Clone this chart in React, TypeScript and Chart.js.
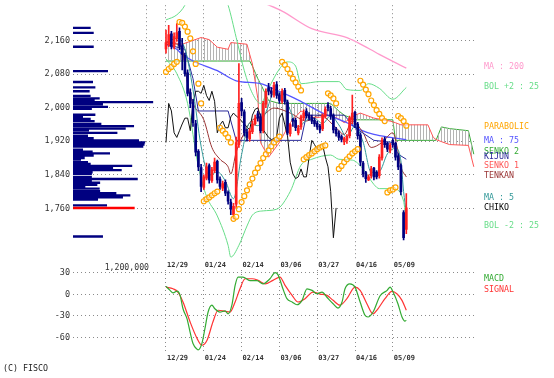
import React, { useEffect, useRef } from "react";
import { Chart, registerables } from "chart.js";
Chart.register(...registerables);

// ---------- axis data ----------
const DATE_LABELS = ["12/29", "01/24", "02/14", "03/06", "03/27", "04/16", "05/09"];
const DATE_TICKS = [0, 14, 28, 42, 56, 70, 84];
const PRICE_TICKS = [2160, 2080, 2000, 1920, 1840, 1760];
const MACD_TICKS = [30, 0, -30, -60];
const VP_SCALE = 1200000;

// ---------- candles (day index 0..89) ----------
const OPENS = [
  2140, 2150, 2176, 2146, 2165, 2182, 2148, 2125, 2083, 2036,
  2012, 1962, 1896, 1857, 1810, 1832, 1862, 1826, 1850, 1872,
  1830, 1808, 1822, 1798, 1775, 1745, 1770, 1912, 2012, 1990,
  1942, 1926, 1943, 1962, 1985, 1978, 1945, 2008, 2048, 2040,
  2030, 2055, 2031, 2015, 2041, 2013, 1938, 1972, 1970, 1940,
  1954, 1976, 1992, 1982, 1977, 1970, 1963, 1956, 1950, 1980,
  2006, 1998, 1982, 1949, 1940, 1931, 1918, 1922, 1933, 1970,
  1989, 1961, 1935, 1868, 1845, 1828, 1838, 1856, 1846, 1838,
  1880, 1925, 1915, 1898, 1922, 1915, 1885, 1862, 1750, 1710,
];
const HIGHS = [
  2185, 2196, 2182, 2178, 2200, 2190, 2165, 2130, 2090, 2045,
  2020, 1970, 1900, 1865, 1840, 1868, 1866, 1858, 1880, 1875,
  1835, 1825, 1828, 1802, 1782, 1772, 1930, 2105, 2022, 1995,
  1948, 1950, 1968, 1982, 1992, 1985, 2015, 2045, 2058, 2048,
  2060, 2062, 2035, 2045, 2046, 2018, 1962, 1975, 1975, 1958,
  1982, 1995, 1998, 1988, 1982, 1975, 1968, 1960, 1985, 2002,
  2012, 2003, 1985, 1953, 1945, 1935, 1930, 1936, 1980, 2030,
  1992, 1965, 1940, 1872, 1848, 1840, 1860, 1858, 1850, 1888,
  1928, 1930, 1918, 1915, 1926, 1918, 1890, 1866, 1755, 1795,
];
const LOWS = [
  2130, 2145, 2140, 2140, 2158, 2138, 2090, 2075, 2028, 2000,
  1955, 1885, 1850, 1800, 1805, 1828, 1820, 1822, 1845, 1820,
  1805, 1802, 1790, 1770, 1745, 1735, 1760, 1905, 1980, 1932,
  1920, 1920, 1938, 1958, 1968, 1940, 1940, 2000, 2030, 2025,
  2025, 2022, 2010, 2010, 2008, 1935, 1932, 1955, 1945, 1935,
  1948, 1970, 1975, 1970, 1962, 1955, 1948, 1940, 1945, 1975,
  1992, 1972, 1940, 1932, 1922, 1918, 1912, 1915, 1928, 1962,
  1952, 1925, 1862, 1835, 1822, 1826, 1832, 1828, 1830, 1832,
  1875, 1905, 1895, 1892, 1905, 1875, 1852, 1792, 1685, 1700,
];
const CLOSES = [
  2155, 2174, 2146, 2169, 2179, 2146, 2127, 2081, 2034, 2010,
  1964, 1894, 1859, 1812, 1835, 1859, 1828, 1852, 1870, 1828,
  1812, 1819, 1796, 1777, 1758, 1765, 1917, 2010, 1992, 1940,
  1929, 1945, 1961, 1975, 1975, 1945, 2010, 2039, 2039, 2034,
  2053, 2029, 2017, 2039, 2015, 1940, 1959, 1968, 1952, 1952,
  1978, 1987, 1980, 1975, 1968, 1961, 1954, 1947, 1982, 1996,
  1999, 1980, 1947, 1938, 1929, 1924, 1926, 1931, 1975, 1987,
  1959, 1933, 1870, 1842, 1831, 1835, 1854, 1835, 1835, 1882,
  1922, 1912, 1901, 1910, 1912, 1882, 1859, 1800, 1690, 1761,
];
const CHIKO_SHIFT = 26;

// ---------- parabolic SAR (one per day) ----------
const SAR = [
  2085, 2092, 2097, 2104, 2109, 2204, 2202, 2193, 2181, 2165,
  2134, 2104, 2057, 2010, 1777, 1782, 1786, 1791, 1796, 1800,
  1952, 1945, 1938, 1929, 1917, 1735, 1740, 1758, 1775, 1789,
  1803, 1817, 1831, 1845, 1856, 1868, 1880, 1889, 1898, 1908,
  1917, 1924, 1931, 2109, 2102, 2092, 2081, 2069, 2060, 2050,
  2041, 1877, 1882, 1887, 1891, 1896, 1901, 1905, 1908, 1910,
  2034, 2029, 2022, 2010, 1854, 1861, 1870, 1877, 1884, 1891,
  1896, 1901, 2064, 2055, 2043, 2032, 2017, 2006, 1994, 1985,
  1975, 1968, 1798, 1803, 1805, 1810, 1980, 1975, 1968, 1957,
];

// ---------- indicator lines (day index, value) ----------
const MA200_X = [36, 43, 54, 67, 71, 79, 89];
const MA200 = [2250, 2230, 2188, 2167, 2155, 2127, 2094];

const BOL_UP_X = [0, 4, 7, 10, 15, 20, 23, 26, 29, 32, 35, 38, 42, 45, 48, 50, 57, 64, 67, 72, 75, 79, 84, 89];
const BOL_UP = [2209, 2221, 2244, 2290, 2310, 2285, 2244, 2167, 2088, 2034, 2010, 2046, 2092, 2109, 2099, 2057, 2062, 2062, 2043, 2041, 2057, 2046, 2020, 2048];

const BOL_LO_X = [0, 4, 8, 12, 15, 19, 23, 24, 27, 30, 32, 36, 41, 46, 50, 54, 61, 64, 69, 73, 77, 79, 84, 88, 89];
const BOL_LO = [2116, 2081, 2010, 1859, 1789, 1742, 1672, 1644, 1672, 1718, 1744, 1754, 1758, 1800, 1863, 1877, 1887, 1877, 1875, 1854, 1817, 1807, 1807, 1777, 1725];

const MA75_X = [0, 4, 6, 10, 19, 26, 35, 41, 49, 58, 67, 72, 77, 83, 89];
const MA75 = [2151, 2139, 2127, 2111, 2088, 2064, 2057, 2041, 2018, 1987, 1964, 1947, 1936, 1929, 1924];

const KIJUN_X = [0, 7, 10, 12, 23, 26, 50, 52, 66, 70, 77, 84, 86, 89];
const KIJUN = [2151, 2139, 2069, 1992, 1992, 1922, 1922, 1982, 1982, 1952, 1922, 1917, 1889, 1877];

const TENKAN_X = [0, 4, 6, 8, 10, 14, 17, 20, 23, 24, 26, 29, 31, 36, 40, 46, 52, 57, 63, 66, 69, 73, 76, 80, 84, 86, 87, 89];
const TENKAN = [2155, 2151, 2139, 2057, 2010, 1971, 1905, 1877, 1859, 1842, 1894, 1940, 1964, 1982, 1999, 1987, 1968, 1982, 1952, 1936, 1968, 1940, 1905, 1917, 1940, 1894, 1859, 1835];

const MA5_X = [0, 4, 7, 10, 13, 16, 19, 22, 25, 28, 31, 34, 37, 40, 43, 46, 49, 52, 55, 58, 61, 64, 67, 70, 73, 76, 79, 82, 85, 87, 88, 89];
const MA5 = [2155, 2165, 2140, 2043, 1908, 1839, 1847, 1825, 1783, 1888, 1963, 1957, 1989, 2035, 2034, 1994, 1954, 1970, 1974, 1962, 1981, 1959, 1930, 1956, 1918, 1846, 1848, 1890, 1903, 1873, 1800, 1750];

const SENKO_X = [0, 6, 13, 16, 19, 23, 24, 30, 31, 32, 34, 35, 38, 42, 46, 50, 55, 61, 64, 66, 70, 72, 77, 83, 84, 85, 87, 97, 99, 100, 102, 105, 112, 114];
const SENKO1 = [2158, 2151, 2167, 2162, 2144, 2139, 2155, 2151, 2127, 2104, 2022, 1917, 1882, 1917, 1964, 1992, 1975, 1982, 1973, 1964, 1982, 1987, 1975, 1968, 1966, 1964, 1959, 1959, 1929, 1924, 1919, 1912, 1910, 1859];
const SENKO2 = [2111, 2111, 2111, 2111, 2111, 2111, 2111, 2111, 2111, 2099, 2069, 2057, 2017, 2010, 2010, 2010, 2010, 2010, 1992, 1982, 1971, 1971, 1971, 1971, 1971, 1922, 1922, 1922, 1922, 1922, 1954, 1950, 1945, 1889];

// ---------- volume by price ----------
const VP_PRICE = [
  2190, 2178, 2145, 2087, 2061, 2048, 2039, 2028, 2022, 2017, 2013, 2008, 2002, 1997,
  1983, 1978, 1973, 1968, 1961, 1956, 1950, 1946, 1940, 1933, 1927, 1922, 1917, 1912, 1907,
  1900, 1895, 1891, 1886, 1880, 1876, 1870, 1866, 1861, 1856, 1851, 1846, 1842,
  1835, 1830, 1826, 1821, 1816, 1811, 1807, 1801, 1796, 1791, 1786, 1781, 1767, 1693,
];
const VP_VOL = [
  287000, 336000, 336000, 568000, 324000, 363000, 270000, 286000, 433000, 352000, 1300000, 486000, 568000, 306000,
  363000, 162000, 287000, 351000, 460000, 990000, 855000, 260000, 720000, 243000, 336000, 1070000, 1170000, 1160000, 1140000,
  162000, 319000, 600000, 336000, 190000, 130000, 243000, 287000, 960000, 650000, 790000, 319000, 306000,
  306000, 1050000, 306000, 440000, 395000, 200000, 433000, 440000, 703000, 930000, 810000, 406000, 552000, 486000,
];
const VP_CUR_PRICE = [1761];
const VP_CUR_VOL = [1000000];

// ---------- MACD ----------
const MACD_X = [0, 1.5, 2.6, 4.1, 5.2, 6.3, 7.8, 8.9, 10, 11.5, 11.9, 13.3, 14.4, 15.6, 17, 18.1, 20, 21.9, 23, 24.4, 25.6, 26.7, 28.5, 31.1, 33.7, 35.9, 38.5, 40.4, 41.5, 43.3, 44.8, 46.7, 48.5, 50.4, 52.2, 54.1, 55.9, 57.8, 59.6, 61.9, 63.7, 65.2, 66.3, 68.1, 70, 71.9, 73.7, 74.8, 76.7, 79.3, 81.9, 83, 84.1, 85.9, 87.4, 88.5, 89];
const MACD = [11, 5.5, 2, 4.5, -1, -20, -34, -52, -68, -76, -77, -68, -48, -24.5, -15, -20, -24.5, -23, -27, -15, 12.4, 24, 24, 19, 19, 14.6, 21.6, 30, 27, 7.7, -6, -10.6, -14.4, -8.3, 7.7, 5.5, 0.8, 3.2, -4, -13, -19, -10.6, 7.7, 14.6, 10, -10.6, -29, -31.4, -24.5, -2, 5.5, 10, 3.2, -13, -31.4, -37, -36];
const SIGNAL_X = [0, 2.6, 4.4, 6.3, 8.9, 11.5, 13.3, 15.2, 17.4, 19.3, 21.9, 23.7, 25.6, 27.4, 29.3, 31.9, 34.1, 36.7, 39.6, 42.2, 44.1, 46.7, 48.9, 51.5, 54.4, 57, 59.6, 61.9, 64.4, 67, 70, 71.9, 74.4, 76.7, 78.5, 81.1, 83.7, 85.6, 87.4, 89];
const SIGNAL = [10, 7.7, 3.2, -10.6, -38, -61, -70.5, -63.6, -38, -22, -23.5, -24.5, -10.6, 7.7, 21.6, 21.6, 19.4, 14.6, 19.4, 24, 12.4, -1.4, -10.6, -6, 3.2, 0.4, -1.4, -8.3, -15, -6, 10, 5.5, -13, -27, -20, -6, 4, 0.4, -8.3, -22];

// ---------- layout / style ----------
const W = 554;
const MAIN_H = 272;
const MACD_TOP = 262;
const MACD_H = 116;
const X_MIN = -34.444;
const X_MAX = 114.444;
const Y_MIN = 1637;
const Y_MAX = 2244;
const M_MIN = -78.5;
const M_MAX = 33.74;
const VP_AXIS_MAX = 6518919;
const MONO = '"DejaVu Sans Mono", "Liberation Mono", monospace';
const GRID = "#8a8a8a";
const DASH = [1, 3];

const C = {
  up: "#ff2020",
  down: "#000080",
  ma200: "#ff99cc",
  bol: "#66dd88",
  sar: "#ffa500",
  ma75: "#5555ff",
  senko2: "#33aa33",
  kijun: "#2a2a9a",
  senko1: "#ff5555",
  tenkan: "#993333",
  ma5: "#339999",
  chiko: "#111111",
  macd: "#33aa33",
  signal: "#ff3333",
  text: "#333333",
};

const LEGEND: [string, string, number][] = [
  ["MA : 200", C.ma200, 67],
  ["BOL +2 : 25", C.bol, 87],
  ["PARABOLIC", C.sar, 127],
  ["MA : 75", C.ma75, 141],
  ["SENKO 2", C.senko2, 152],
  ["KIJUN", C.kijun, 157],
  ["SENKO 1", C.senko1, 166],
  ["TENKAN", C.tenkan, 176],
  ["MA : 5", C.ma5, 198],
  ["CHIKO", "#000000", 208],
  ["BOL -2 : 25", C.bol, 226],
];

const pts = (xs: number[], ys: number[]) => xs.map((x, i) => ({ x, y: ys[i] }));

function makeHatch(): any {
  const c = document.createElement("canvas");
  c.width = 3;
  c.height = 2;
  const g = c.getContext("2d")!;
  g.fillStyle = "#b4b4b4";
  g.fillRect(0, 0, 1, 2);
  return g.createPattern(c, "repeat") || "#dddddd";
}

function lineDs(label: string, data: any[], color: string, order: number, extra: any = {}) {
  return {
    type: "line",
    label,
    data,
    borderColor: color,
    backgroundColor: color,
    borderWidth: 1,
    pointRadius: 0,
    fill: false,
    order,
    ...extra,
  };
}

const gridX = (ticks: number[]) => ({
  type: "linear",
  min: X_MIN,
  max: X_MAX,
  offset: false,
  afterBuildTicks: (s: any) => {
    s.ticks = ticks.map((v) => ({ value: v }));
  },
  ticks: { display: false },
  grid: { color: GRID, drawTicks: false, lineWidth: 1, offset: false },
  border: { display: false, dash: DASH },
});

const gridY = (min: number, max: number, ticks: number[]) => ({
  type: "linear",
  min,
  max,
  afterBuildTicks: (s: any) => {
    s.ticks = ticks.map((v) => ({ value: v }));
  },
  ticks: { display: false },
  grid: { color: GRID, drawTicks: false, lineWidth: 1 },
  border: { display: false, dash: DASH },
});

const mainLabels = {
  id: "mainLabels",
  afterDraw(chart: any) {
    const { ctx, scales } = chart;
    ctx.save();
    ctx.fillStyle = C.text;
    ctx.font = `8.5px ${MONO}`;
    ctx.textAlign = "right";
    ctx.textBaseline = "middle";
    PRICE_TICKS.forEach((v) => ctx.fillText(v.toLocaleString("en-US"), 70, scales.y.getPixelForValue(v)));
    ctx.font = `8.2px ${MONO}`;
    ctx.fillText(VP_SCALE.toLocaleString("en-US"), scales.x2.getPixelForValue(VP_SCALE) + 2, 268);
    ctx.font = `bold 7px ${MONO}`;
    ctx.textAlign = "left";
    DATE_TICKS.forEach((d, i) => ctx.fillText(DATE_LABELS[i], scales.x.getPixelForValue(d) + 1, 265));
    ctx.font = `8.3px ${MONO}`;
    LEGEND.forEach(([t, col, y]) => {
      ctx.fillStyle = col;
      ctx.fillText(t, 484, y);
    });
    ctx.restore();
  },
};

const macdLabels = {
  id: "macdLabels",
  afterDraw(chart: any) {
    const { ctx, scales } = chart;
    ctx.save();
    ctx.fillStyle = C.text;
    ctx.font = `8.5px ${MONO}`;
    ctx.textAlign = "right";
    ctx.textBaseline = "middle";
    MACD_TICKS.forEach((v) => ctx.fillText(String(v), 70, scales.y.getPixelForValue(v)));
    ctx.font = `bold 7px ${MONO}`;
    ctx.textAlign = "left";
    DATE_TICKS.forEach((d, i) => ctx.fillText(DATE_LABELS[i], scales.x.getPixelForValue(d) + 1, 358 - MACD_TOP));
    ctx.font = `8.3px ${MONO}`;
    ctx.fillStyle = C.macd;
    ctx.fillText("MACD", 484, 279 - MACD_TOP);
    ctx.fillStyle = C.signal;
    ctx.fillText("SIGNAL", 484, 290 - MACD_TOP);
    ctx.fillStyle = "#222";
    ctx.fillText("(C) FISCO", 3, 369 - MACD_TOP);
    ctx.restore();
  },
};

export default function App() {
  const mainRef = useRef<HTMLCanvasElement>(null);
  const macdRef = useRef<HTMLCanvasElement>(null);

  useEffect(() => {
    const hatch = makeHatch();
    const idx = CLOSES.map((_, i) => i);
    const upOrDown = (ctx: any) => (CLOSES[ctx.dataIndex] >= OPENS[ctx.dataIndex] ? C.up : C.down);

    const vpData: any[] = [];
    VP_PRICE.forEach((p, i) => {
      vpData.push({ x: 0, y: p }, { x: VP_VOL[i], y: p }, { x: 0, y: null });
    });
    const vpCur: any[] = [];
    VP_CUR_PRICE.forEach((p, i) => {
      vpCur.push({ x: 0, y: p }, { x: VP_CUR_VOL[i], y: p }, { x: 0, y: null });
    });

    const chiko = CLOSES.map((c, i) => ({ x: i - CHIKO_SHIFT, y: c })).filter((p) => p.x >= 0);

    const main = new Chart(mainRef.current as HTMLCanvasElement, {
      type: "line",
      data: {
        datasets: [
          lineDs("vp", vpData, C.down, 30, { xAxisID: "x2", borderWidth: 2.3, borderCapStyle: "butt", spanGaps: false }),
          lineDs("vpcur", vpCur, "#ff0000", 29, { xAxisID: "x2", borderWidth: 2.5, borderCapStyle: "butt", spanGaps: false }),
          lineDs("SENKO 2", pts(SENKO_X, SENKO2), C.senko2, 20),
          lineDs("SENKO 1", pts(SENKO_X, SENKO1), C.senko1, 19, { fill: "-1", backgroundColor: hatch }),
          lineDs("MA 200", pts(MA200_X, MA200), C.ma200, 15, { cubicInterpolationMode: "monotone", borderWidth: 1.3 }),
          lineDs("BOL +2", pts(BOL_UP_X, BOL_UP), C.bol, 15, { cubicInterpolationMode: "monotone" }),
          lineDs("BOL -2", pts(BOL_LO_X, BOL_LO), C.bol, 15, { cubicInterpolationMode: "monotone" }),
          lineDs("MA 75", pts(MA75_X, MA75), C.ma75, 14, { cubicInterpolationMode: "monotone", borderWidth: 1.3 }),
          lineDs("KIJUN", pts(KIJUN_X, KIJUN), C.kijun, 13),
          lineDs("TENKAN", pts(TENKAN_X, TENKAN), C.tenkan, 13, { cubicInterpolationMode: "monotone" }),
          lineDs("MA 5", pts(MA5_X, MA5), C.ma5, 12, { cubicInterpolationMode: "monotone" }),
          lineDs("CHIKO", chiko, C.chiko, 12),
          {
            type: "bar",
            label: "wick",
            data: idx.map((i) => ({ x: i, y: [LOWS[i], HIGHS[i]] })),
            backgroundColor: upOrDown,
            barThickness: 1,
            grouped: false,
            order: 5,
          },
          {
            type: "bar",
            label: "body",
            data: idx.map((i) => ({ x: i, y: [OPENS[i], CLOSES[i]] })),
            backgroundColor: upOrDown,
            barThickness: 2,
            grouped: false,
            order: 4,
          },
          {
            type: "line",
            label: "PARABOLIC",
            data: idx.map((i) => ({ x: i, y: SAR[i] })),
            showLine: false,
            pointRadius: 2.5,
            pointBorderWidth: 1.2,
            pointBorderColor: C.sar,
            pointBackgroundColor: "rgba(255,255,255,0.5)",
            borderColor: C.sar,
            order: 1,
          },
        ] as any,
      },
      options: {
        responsive: false,
        animation: false,
        devicePixelRatio: 1,
        events: [],
        layout: { padding: { left: 73, right: W - 475, top: 0, bottom: MAIN_H - 260 } },
        plugins: { legend: { display: false }, tooltip: { enabled: false } },
        scales: {
          x: gridX(DATE_TICKS) as any,
          x2: {
            type: "linear",
            position: "bottom",
            min: 0,
            max: VP_AXIS_MAX,
            afterBuildTicks: (s: any) => {
              s.ticks = [{ value: VP_SCALE }];
            },
            ticks: { display: false },
            grid: { color: GRID, drawTicks: false, lineWidth: 1 },
            border: { display: false, dash: DASH },
          } as any,
          y: gridY(Y_MIN, Y_MAX, PRICE_TICKS) as any,
        },
      },
      plugins: [mainLabels],
    });

    const macd = new Chart(macdRef.current as HTMLCanvasElement, {
      type: "line",
      data: {
        datasets: [
          lineDs("SIGNAL", pts(SIGNAL_X, SIGNAL), C.signal, 2, { cubicInterpolationMode: "monotone", borderWidth: 1.2 }),
          lineDs("MACD", pts(MACD_X, MACD), C.macd, 1, { cubicInterpolationMode: "monotone", borderWidth: 1.2 }),
        ] as any,
      },
      options: {
        responsive: false,
        animation: false,
        devicePixelRatio: 1,
        events: [],
        layout: { padding: { left: 73, right: W - 475, top: 270 - MACD_TOP, bottom: MACD_H - (351 - MACD_TOP) } },
        plugins: { legend: { display: false }, tooltip: { enabled: false } },
        scales: {
          x: gridX(DATE_TICKS) as any,
          y: gridY(M_MIN, M_MAX, MACD_TICKS) as any,
        },
      },
      plugins: [macdLabels],
    });

    return () => {
      main.destroy();
      macd.destroy();
    };
  }, []);

  return (
    <div style={{ position: "absolute", left: 0, top: 0, width: W, height: 378, background: "#ffffff", overflow: "hidden" }}>
      <canvas ref={mainRef} width={W} height={MAIN_H} style={{ position: "absolute", left: 0, top: 0, width: W, height: MAIN_H }} />
      <canvas ref={macdRef} width={W} height={MACD_H} style={{ position: "absolute", left: 0, top: MACD_TOP, width: W, height: MACD_H }} />
    </div>
  );
}
